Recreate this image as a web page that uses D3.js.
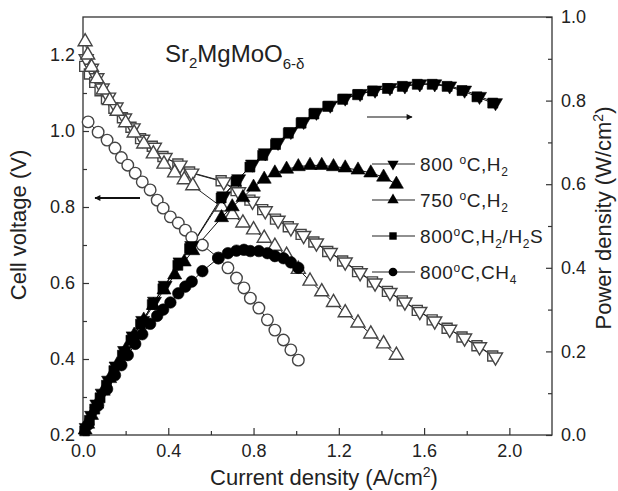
<!DOCTYPE html>
<html>
<head>
<meta charset="utf-8">
<script src="https://cdn.jsdelivr.net/npm/d3@7/dist/d3.min.js"></script>
<style>
  body { margin: 0; background: #fff; }
  svg text { font-family: "Liberation Sans", Arial, sans-serif; fill: #222; }
</style>
</head>
<body>
<svg id="chart" width="618" height="491"></svg>
<script>
// ---- data ----
// 800 C, H2 (down triangles)
const currentH2_800 = [0.015,0.04,0.065,0.09,0.12,0.155,0.195,0.235,0.28,0.335,0.385,0.455,0.51,0.66,0.73,0.795,0.855,0.915,0.975,1.035,1.095,1.16,1.23,1.30,1.37,1.44,1.51,1.58,1.65,1.72,1.79,1.86,1.935];
const voltageH2_800 = [1.19,1.165,1.14,1.113,1.089,1.063,1.034,1.008,0.978,0.957,0.93,0.91,0.889,0.866,0.84,0.815,0.79,0.765,0.745,0.725,0.705,0.68,0.655,0.627,0.60,0.575,0.55,0.525,0.50,0.478,0.455,0.432,0.405];
const powerH2_800 = [0.018,0.047,0.074,0.1,0.131,0.165,0.202,0.237,0.274,0.32,0.358,0.414,0.453,0.572,0.613,0.648,0.675,0.70,0.726,0.75,0.772,0.789,0.806,0.817,0.825,0.831,0.835,0.84,0.84,0.835,0.825,0.81,0.795];

// 750 C, H2 (up triangles)
const currentH2_750 = [0.01,0.022,0.04,0.065,0.095,0.125,0.16,0.2,0.24,0.285,0.33,0.38,0.43,0.475,0.515,0.65,0.70,0.75,0.80,0.85,0.90,0.955,1.01,1.065,1.12,1.175,1.23,1.29,1.35,1.41,1.47];
const voltageH2_750 = [1.235,1.2,1.168,1.138,1.108,1.08,1.052,1.022,0.995,0.966,0.94,0.913,0.89,0.872,0.856,0.80,0.78,0.758,0.74,0.718,0.697,0.673,0.636,0.605,0.577,0.549,0.522,0.495,0.466,0.44,0.41];
const powerH2_750 = [0.012,0.026,0.047,0.074,0.105,0.135,0.168,0.204,0.239,0.275,0.31,0.347,0.383,0.414,0.441,0.52,0.546,0.568,0.593,0.612,0.627,0.636,0.642,0.645,0.645,0.642,0.639,0.634,0.627,0.617,0.60];

// 800 C, H2/H2S (squares)
const currentH2S = [0.008,0.03,0.055,0.08,0.11,0.145,0.185,0.225,0.27,0.325,0.375,0.445,0.50,0.648,0.718,0.783,0.843,0.903,0.963,1.023,1.083,1.148,1.218,1.288,1.358,1.428,1.498,1.568,1.638,1.708,1.778,1.848,1.922];
const voltageH2S = [1.17,1.15,1.128,1.106,1.085,1.06,1.035,1.01,0.98,0.96,0.933,0.913,0.892,0.869,0.843,0.818,0.793,0.768,0.748,0.728,0.708,0.683,0.658,0.63,0.603,0.578,0.553,0.528,0.503,0.481,0.458,0.435,0.408];
const powerH2S = [0.01,0.035,0.062,0.089,0.119,0.154,0.191,0.227,0.265,0.312,0.35,0.406,0.446,0.567,0.607,0.641,0.669,0.695,0.722,0.746,0.768,0.786,0.803,0.814,0.823,0.829,0.834,0.839,0.839,0.834,0.824,0.809,0.794];

// 800 C, CH4 (circles)
const currentCH4 = [0.024,0.071,0.113,0.15,0.18,0.21,0.245,0.278,0.315,0.348,0.376,0.41,0.447,0.48,0.51,0.56,0.635,0.68,0.72,0.755,0.785,0.825,0.865,0.90,0.94,0.975,1.01];
const voltageCH4 = [1.024,0.997,0.976,0.955,0.93,0.91,0.889,0.866,0.845,0.818,0.797,0.774,0.758,0.739,0.72,0.70,0.666,0.64,0.613,0.587,0.56,0.534,0.503,0.476,0.45,0.424,0.397];
const powerCH4 = [0.025,0.071,0.11,0.143,0.167,0.191,0.218,0.241,0.266,0.285,0.30,0.317,0.339,0.355,0.367,0.392,0.423,0.435,0.441,0.443,0.44,0.44,0.435,0.428,0.423,0.413,0.40];

const xTicks = [0, 0.4, 0.8, 1.2, 1.6, 2.0];
const xMinor = [0.2, 0.6, 1.0, 1.4, 1.8];
const vTicks = [0.2, 0.4, 0.6, 0.8, 1.0, 1.2];
const vMinor = [0.3, 0.5, 0.7, 0.9, 1.1];
const pTicks = [0, 0.2, 0.4, 0.6, 0.8, 1.0];
const pMinor = [0.1, 0.3, 0.5, 0.7, 0.9];

// ---- layout ----
const plotLeft = 83, plotRight = 552, plotTop = 17, plotBottom = 435;
const svg = d3.select("#chart");

const x = d3.scaleLinear().domain([0, 2.2]).range([plotLeft, plotRight]);
const yV = d3.scaleLinear().domain([0.2, 1.3]).range([plotBottom, plotTop]);
const yP = d3.scaleLinear().domain([0, 1.0]).range([plotBottom, plotTop]);

const fmt = d3.format(".1f");

function styleAxis(g) {
    g.select(".domain").remove();
    g.selectAll("line").attr("stroke", "#333").attr("stroke-width", 1.2);
    g.selectAll("text").attr("font-size", 18).attr("fill", "#222");
}

svg.append("g").attr("transform", `translate(0,${plotBottom})`)
    .call(d3.axisBottom(x).tickValues(xTicks).tickFormat(fmt).tickSize(-7).tickPadding(9))
    .call(styleAxis);
svg.append("g").attr("transform", `translate(0,${plotBottom})`)
    .call(d3.axisBottom(x).tickValues(xMinor).tickFormat("").tickSize(-4))
    .call(styleAxis);

svg.append("g").attr("transform", `translate(${plotLeft},0)`)
    .call(d3.axisLeft(yV).tickValues(vTicks).tickFormat(fmt).tickSize(-6).tickPadding(8))
    .call(styleAxis);
svg.append("g").attr("transform", `translate(${plotLeft},0)`)
    .call(d3.axisLeft(yV).tickValues(vMinor).tickFormat("").tickSize(-4))
    .call(styleAxis);

svg.append("g").attr("transform", `translate(${plotRight},0)`)
    .call(d3.axisRight(yP).tickValues(pTicks).tickFormat(fmt).tickSize(-6).tickPadding(9))
    .call(styleAxis);
svg.append("g").attr("transform", `translate(${plotRight},0)`)
    .call(d3.axisRight(yP).tickValues(pMinor).tickFormat("").tickSize(-4))
    .call(styleAxis);

svg.append("rect")
    .attr("x", plotLeft).attr("y", plotTop)
    .attr("width", plotRight - plotLeft).attr("height", plotBottom - plotTop)
    .attr("fill", "none").attr("stroke", "#333").attr("stroke-width", 1.3);

// ---- series ----
const series = [
    { I: currentH2S, V: voltageH2S, P: powerH2S, shape: d3.symbolSquare, size: 100, rot: 0 },
    { I: currentH2_800, V: voltageH2_800, P: powerH2_800, shape: d3.symbolTriangle, size: 85, rot: 180 },
    { I: currentH2_750, V: voltageH2_750, P: powerH2_750, shape: d3.symbolTriangle, size: 85, rot: 0 },
    { I: currentCH4, V: voltageCH4, P: powerCH4, shape: d3.symbolCircle, size: 105, rot: 0 }
];

const lineV = d3.line().x(d => x(d[0])).y(d => yV(d[1]));
const lineP = d3.line().x(d => x(d[0])).y(d => yP(d[1]));

const plot = svg.append("g");

series.forEach(s => {
    let vPts = s.I.map((c, i) => [c, s.V[i]]);
    let pPts = s.I.map((c, i) => [c, s.P[i]]);
    plot.append("path").attr("d", lineV(vPts)).attr("fill", "none").attr("stroke", "#222").attr("stroke-width", 1);
    plot.append("path").attr("d", lineP(pPts)).attr("fill", "none").attr("stroke", "#111").attr("stroke-width", 1);
});

// open symbols: cell voltage
series.forEach(s => {
    let sym = d3.symbol().type(s.shape).size(s.size);
    plot.append("g").selectAll("path")
        .data(s.I.map((c, i) => [c, s.V[i]]))
        .join("path")
        .attr("d", sym)
        .attr("transform", d => `translate(${x(d[0])},${yV(d[1])}) rotate(${s.rot})`)
        .attr("fill", "#fff").attr("stroke", "#444").attr("stroke-width", 1.4);
});

// filled symbols: power density
series.forEach(s => {
    let sym = d3.symbol().type(s.shape).size(s.size);
    plot.append("g").selectAll("path")
        .data(s.I.map((c, i) => [c, s.P[i]]))
        .join("path")
        .attr("d", sym)
        .attr("transform", d => `translate(${x(d[0])},${yP(d[1])}) rotate(${s.rot})`)
        .attr("fill", "#000").attr("stroke", "#000").attr("stroke-width", 0.6);
});

// ---- arrows ----
const defs = svg.append("defs");
defs.append("marker").attr("id", "head")
    .attr("viewBox", "0 0 10 10").attr("refX", 9).attr("refY", 5)
    .attr("markerWidth", 10).attr("markerHeight", 6).attr("orient", "auto")
    .attr("markerUnits", "userSpaceOnUse")
    .append("path").attr("d", "M0,0L10,5L0,10Z").attr("fill", "#111");

svg.append("line").attr("x1", 140).attr("y1", 198).attr("x2", 95).attr("y2", 198)
    .attr("stroke", "#111").attr("stroke-width", 1.8).attr("marker-end", "url(#head)");
svg.append("line").attr("x1", 367).attr("y1", 117).attr("x2", 412).attr("y2", 117)
    .attr("stroke", "#111").attr("stroke-width", 1.2).attr("marker-end", "url(#head)");

// ---- legend ----
const legendRows = [
    { shape: d3.symbolTriangle, rot: 180, parts: [["800 ", 0], ["o", 1], ["C,H", 0], ["2", -1]] },
    { shape: d3.symbolTriangle, rot: 0, parts: [["750 ", 0], ["o", 1], ["C,H", 0], ["2", -1]] },
    { shape: d3.symbolSquare, rot: 0, parts: [["800", 0], ["o", 1], ["C,H", 0], ["2", -1], ["/H", 0], ["2", -1], ["S", 0]] },
    { shape: d3.symbolCircle, rot: 0, parts: [["800", 0], ["o", 1], ["C,CH", 0], ["4", -1]] }
];
const legendY = [164, 200, 236, 272];

legendRows.forEach((row, i) => {
    let g = svg.append("g").attr("transform", `translate(0,${legendY[i]})`);
    g.append("line").attr("x1", 372).attr("x2", 415).attr("y1", 0).attr("y2", 0)
        .attr("stroke", "#222").attr("stroke-width", 1.2);
    g.append("path").attr("d", d3.symbol().type(row.shape).size(row.shape === d3.symbolCircle ? 60 : 55))
        .attr("transform", `translate(393,0) rotate(${row.rot})`).attr("fill", "#000");
    let t = g.append("text").attr("x", 420).attr("y", 7).attr("font-size", 19).attr("letter-spacing", 0.6);
    let prev = 0;
    row.parts.forEach(p => {
        let shift = p[1] === 1 ? -7 : p[1] === -1 ? 5 : 0;
        t.append("tspan").text(p[0])
            .attr("dy", shift - prev)
            .attr("font-size", p[1] === 0 ? 19 : 12);
        prev = shift;
    });
});

// ---- sample label ----
let title = svg.append("text").attr("x", 165).attr("y", 62).attr("font-size", 24);
title.append("tspan").text("Sr");
title.append("tspan").text("2").attr("font-size", 15).attr("dy", 6);
title.append("tspan").text("MgMoO").attr("dy", -6);
title.append("tspan").text("6-δ").attr("font-size", 15).attr("dy", 7);

// ---- axis titles ----
let xt = svg.append("text").attr("x", 324).attr("y", 485).attr("text-anchor", "middle").attr("font-size", 22);
xt.append("tspan").text("Current density (A/cm");
xt.append("tspan").text("2").attr("font-size", 14).attr("dy", -8);
xt.append("tspan").text(")").attr("dy", 8);

svg.append("text").attr("transform", "translate(26,225) rotate(-90)")
    .attr("text-anchor", "middle").attr("font-size", 22).text("Cell voltage (V)");

let yt = svg.append("text").attr("transform", "translate(611,218) rotate(-90)")
    .attr("text-anchor", "middle").attr("font-size", 22);
yt.append("tspan").text("Power density (W/cm");
yt.append("tspan").text("2").attr("font-size", 14).attr("dy", -8);
yt.append("tspan").text(")").attr("dy", 8);
</script>
</body>
</html>
